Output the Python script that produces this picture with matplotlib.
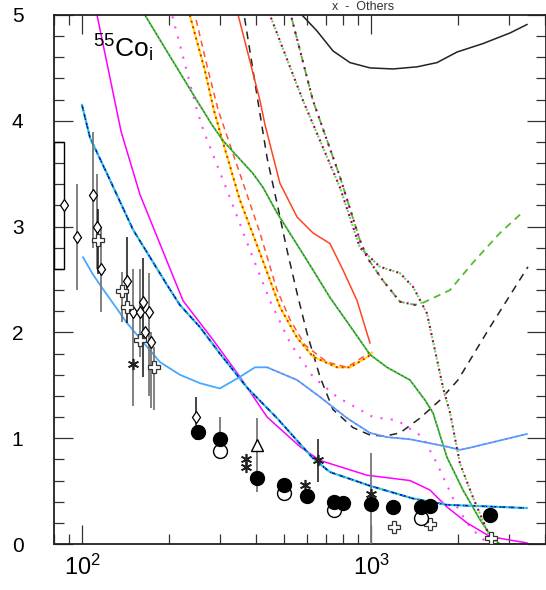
import matplotlib.pyplot as plt
from matplotlib.patches import Rectangle
from matplotlib.ticker import FixedLocator, MultipleLocator, NullFormatter

plt.rcParams['font.family'] = ['Liberation Sans', 'DejaVu Sans']
plt.rcParams['mathtext.fontset'] = 'custom'
plt.rcParams['mathtext.rm'] = 'Liberation Sans'
plt.rcParams['mathtext.it'] = 'Liberation Sans:italic'

# ---- model curves ----
black_solid_x = [558, 577, 650, 739, 846, 992, 1192, 1443, 1692, 1985, 2441, 3027, 3465]
black_solid_y = [5.08, 5.00, 4.85, 4.66, 4.55, 4.50, 4.49, 4.51, 4.55, 4.65, 4.73, 4.83, 4.91]

black_dash_x = [359, 364, 406, 437, 473, 512, 555, 601, 666, 739, 867, 992, 1118,
                1260, 1478, 1733, 2000, 2581, 3493]
black_dash_y = [5.10, 5.00, 4.19, 3.65, 3.22, 2.78, 2.37, 1.99, 1.58, 1.27, 1.10, 1.03,
                1.02, 1.05, 1.19, 1.36, 1.55, 2.05, 2.62]

red_solid_x = [341, 347, 413, 430, 484, 555, 630, 721, 800, 895, 992]
red_solid_y = [5.10, 5.00, 4.19, 3.96, 3.41, 3.09, 2.94, 2.84, 2.59, 2.30, 1.90]

green_solid_x = [162, 165, 250, 282, 308, 391, 423, 473, 601, 721, 867, 992, 1136,
                 1364, 1538, 1639, 1832, 2081, 2384, 2623, 2795, 3549]
green_solid_y = [5.05, 5.00, 4.19, 3.96, 3.81, 3.50, 3.37, 3.13, 2.68, 2.33, 2.02, 1.79,
                 1.67, 1.55, 1.36, 1.24, 0.82, 0.51, 0.23, 0.06, 0.0, 0.0]

orange_dot_x = [232, 236, 266, 286, 308, 352, 413, 484, 555, 630, 763, 846, 976, 1008]
orange_dot_y = [5.05, 5.00, 4.48, 4.10, 3.79, 3.25, 2.75, 2.24, 1.95, 1.77, 1.67, 1.67,
                1.77, 1.81]

red_dash_x = [242, 246, 273, 296, 361, 413, 473, 525, 591, 704, 826, 992]
red_dash_y = [5.05, 5.00, 4.48, 4.10, 3.41, 2.94, 2.40, 2.12, 1.88, 1.72, 1.67, 1.81]

orange_floor_x = [2650, 3549]
orange_floor_y = [0.0, 0.0]

magenta_dot_x = [200, 205, 250, 264, 318, 381, 447, 525, 630, 763, 1016, 1230, 1513,
                 1692, 1985, 2200, 2384, 2500]
magenta_dot_y = [5.08, 5.00, 4.10, 3.90, 3.34, 2.78, 2.30, 1.90, 1.58, 1.39, 1.20, 1.17,
                 1.01, 0.76, 0.35, 0.16, 0.07, 0.02]

magenta_x = [110, 112.7, 136.5, 158.8, 223.6, 284, 352, 437, 568, 666, 969, 1364, 1600,
             1832, 2148, 2581, 3465]
magenta_y = [5.10, 5.00, 3.90, 3.30, 2.30, 1.93, 1.58, 1.20, 0.92, 0.79, 0.65, 0.60,
             0.51, 0.35, 0.20, 0.07, 0.01]

blue_x = [100, 106.6, 125, 150.2, 196.8, 218, 256, 300, 372, 473, 630, 721, 992, 1398,
          1600, 1832, 3465]
blue_y = [4.15, 3.84, 3.44, 2.97, 2.45, 2.26, 2.05, 1.80, 1.48, 1.19, 0.81, 0.68, 0.55,
          0.43, 0.40, 0.37, 0.34]

light_blue_x = [100.8, 109, 115.4, 143, 186, 218, 256, 300, 352, 397, 437, 555, 666, 826,
                992, 1136, 1364, 1832, 2032, 2200, 3465]
light_blue_y = [2.71, 2.55, 2.45, 2.09, 1.72, 1.60, 1.52, 1.47, 1.58, 1.67, 1.67, 1.55,
                1.39, 1.19, 1.05, 1.01, 0.99, 0.92, 0.89, 0.91, 1.04]

purple1_x = [440, 447, 582, 781, 916, 1074, 1260, 1398, 1562, 1775, 1877, 2032, 2254,
             2520, 2650]
purple1_y = [5.08, 5.00, 4.19, 3.37, 2.80, 2.62, 2.56, 2.43, 2.18, 1.48, 1.24, 0.76, 0.44,
             0.13, 0.0]

purple2_x = [520, 528, 630, 781, 916, 968, 1100, 1260, 1420, 1478]
purple2_y = [5.08, 5.00, 4.19, 3.47, 2.87, 2.71, 2.49, 2.29, 2.26, 2.27]

green_dash_x = [520, 528, 630, 781, 916, 968, 1100, 1260, 1420, 1513, 1877, 2254, 2795, 3331]
green_dash_y = [5.08, 5.00, 4.19, 3.47, 2.87, 2.71, 2.49, 2.29, 2.26, 2.28, 2.40, 2.66,
                2.94, 3.13]

# ---- measurements ----
box_x = [80, 86.6]
box_y = [2.6, 3.8]

diamond_x = [86.6, 96.1, 109.2, 112.7, 116.4, 143.1, 150.2, 158.8, 162.6, 165.2, 170.5,
             173.3, 248]
diamond_y = [3.20, 2.90, 3.30, 3.00, 2.60, 2.49, 2.19, 2.19, 2.29, 2.00, 2.19, 1.91, 1.20]

cross_x = [113.6, 137.5, 143.1, 158.8, 177.5, 1201, 1600, 2602]
cross_y = [2.87, 2.39, 2.24, 1.93, 1.67, 0.16, 0.19, 0.06]

star_x = [150.2, 369, 369, 591, 655, 1000]
star_y = [1.70, 0.80, 0.73, 0.56, 0.79, 0.47]

filled_x = [252, 300, 403, 500, 601, 745, 800, 1000, 1192, 1489, 1600, 2581]
filled_y = [1.06, 0.99, 0.62, 0.56, 0.45, 0.40, 0.39, 0.38, 0.35, 0.35, 0.36, 0.27]

open_x = [300, 500, 745, 1489]
open_y = [0.88, 0.48, 0.32, 0.25]

tri_x = [403]
tri_y = [0.94]

grey_err_x = [96.1, 109.2, 112.7, 116.4, 137.5, 150.2, 158.8, 170.5, 173.3, 177.5, 403,
              300, 1000]
grey_err_lo = [2.40, 2.80, 2.60, 2.19, 2.10, 1.30, 1.77, 1.40, 1.29, 1.27, 0.49, 0.99, 0.0]
grey_err_hi = [3.40, 3.89, 3.50, 3.00, 2.57, 2.60, 2.60, 2.56, 2.00, 1.86, 1.19, 1.20, 0.86]

black_err_x = [113.6, 143.1, 162.6, 248, 655]
black_err_lo = [2.55, 2.09, 1.58, 0.98, 0.59]
black_err_hi = [3.17, 2.90, 2.70, 1.39, 0.99]

fig = plt.figure(figsize=(5.46, 5.90), dpi=100)
ax = fig.add_axes([54 / 546, 1 - 544 / 590, 492 / 546, 529 / 590])
ax.set_xscale('log')
ax.set_xlim(80, 4033)
ax.set_ylim(0, 5)

dot = (0, (1, 2))
# model curves
ax.plot(black_solid_x, black_solid_y, color='#222222', lw=1.1)
ax.plot(black_dash_x, black_dash_y, color='#222222', lw=1.1, ls=(0, (5, 4)))
ax.plot(red_solid_x, red_solid_y, color='#ff4422', lw=1.1)
ax.plot(orange_dot_x, orange_dot_y, color='#ffdd00', lw=1.4)
ax.plot(orange_dot_x, orange_dot_y, color='#ee2200', lw=1.4, ls=dot)
ax.plot(red_dash_x, red_dash_y, color='#ff5533', lw=1.1, ls=(0, (4, 3)))
ax.plot(orange_floor_x, orange_floor_y, color='#ffaa00', lw=1.4, ls=(0, (4, 3)),
        clip_on=False)
ax.plot(green_solid_x, green_solid_y, color='#2e8b2e', lw=1.2)
ax.plot(green_solid_x, green_solid_y, color='#55ee33', lw=1.0, ls=dot)
ax.plot(magenta_dot_x, magenta_dot_y, color='#ff44ff', lw=1.5, ls=(0, (1, 4)))
ax.plot(magenta_x, magenta_y, color='#ff00ff', lw=1.1)
ax.plot(blue_x, blue_y, color='#33ccff', lw=1.6)
ax.plot(blue_x, blue_y, color='#0000ee', lw=1.1, ls=(0, (4, 2)))
ax.plot(blue_x, blue_y, color='#33cc33', lw=1.0, ls=dot)
ax.plot(light_blue_x, light_blue_y, color='#44aaff', lw=1.3)
ax.plot(light_blue_x[10:], light_blue_y[10:], color='#dd44dd', lw=1.0, ls=(0, (1, 3)))
ax.plot(green_dash_x, green_dash_y, color='#55bb33', lw=1.3, ls=(0, (4, 3)))
ax.plot(purple1_x, purple1_y, color='#66dd44', lw=1.5, ls=(0, (1, 2.5)))
ax.plot(purple1_x, purple1_y, color='#990066', lw=1.5, ls=(1.5, (1, 2.5)))
ax.plot(purple2_x, purple2_y, color='#990066', lw=1.5, ls=(1.5, (1, 2.5)))

# measurements
ax.add_patch(Rectangle((box_x[0], box_y[0]), box_x[1] - box_x[0], box_y[1] - box_y[0],
                       fill=False, edgecolor='black', lw=1.0, zorder=3))
ax.vlines(grey_err_x, grey_err_lo, grey_err_hi, color='#777777', lw=1.3, zorder=3)
ax.vlines(black_err_x, black_err_lo, black_err_hi, color='#111111', lw=1.1, zorder=3)
ax.plot(diamond_x, diamond_y, 'd', ms=6, mfc='white', mec='black', mew=0.9, zorder=4)
ax.plot(cross_x, cross_y, 'P', ms=8, mfc='white', mec='#333333', mew=0.9, zorder=4)
ax.plot(star_x, star_y, marker=(6, 2, 0), ls='none', ms=8, mec='#222222', mew=1.2,
        zorder=4)
ax.plot(open_x, open_y, 'o', ms=10, mfc='white', mec='black', mew=1.0, zorder=4)
ax.plot(filled_x, filled_y, 'o', ms=10, mfc='black', mec='black', zorder=5)
ax.plot(tri_x, tri_y, '^', ms=9, mfc='white', mec='black', mew=1.0, zorder=5)

# axes styling
for sp in ax.spines.values():
    sp.set_linewidth(1.3)
    sp.set_color('#222222')
ax.xaxis.set_major_locator(FixedLocator([100, 1000]))
ax.xaxis.set_minor_locator(FixedLocator([80, 90] + list(range(200, 1000, 100))
                                        + [2000, 3000, 4000]))
ax.xaxis.set_minor_formatter(NullFormatter())
ax.set_xticklabels([r'$10^{2}$', r'$10^{3}$'])
ax.yaxis.set_major_locator(MultipleLocator(1))
ax.yaxis.set_minor_locator(MultipleLocator(0.2))
ax.tick_params(which='both', direction='in', top=True, right=True, width=0.9,
               color='#333333')
ax.tick_params(which='major', length=14)
ax.tick_params(which='minor', length=7)
ax.tick_params(axis='y', which='major', labelsize=15, pad=22)
ax.tick_params(axis='x', which='major', labelsize=17, pad=8)

ax.text(0.08, 0.937, r'$^{55}$Co$_{\rm i}$', transform=ax.transAxes, fontsize=19,
        ha='left', va='center')
fig.text(332 / 546, 1 - 1 / 590, 'x  -  Others', fontsize=9, ha='left', va='top',
         color='#333333')

fig.savefig('out.png', dpi=100)
